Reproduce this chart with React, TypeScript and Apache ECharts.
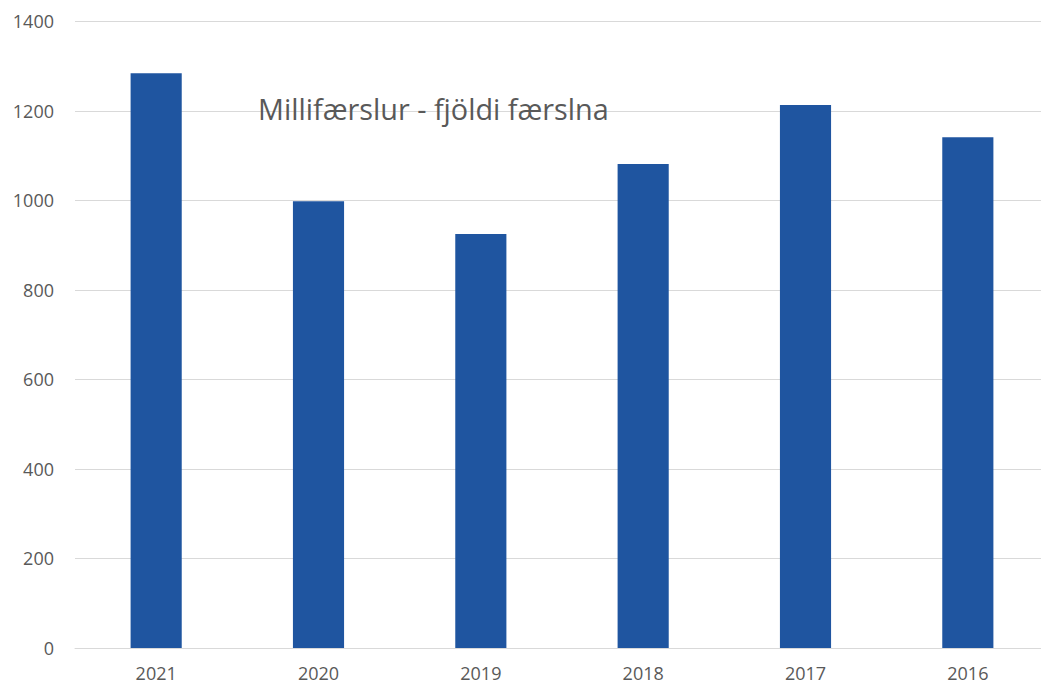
import React, { useEffect, useRef } from "react";
import * as echarts from "echarts";

const categories = ["2021", "2020", "2019", "2018", "2017", "2016"];
const values = [1284, 998, 925, 1081, 1213, 1141];
const titleText = "Millifærslur - fjöldi færslna";

export default function App() {
  const ref = useRef<HTMLDivElement>(null);
  useEffect(() => {
    document.body.style.margin = "0";
    const chart = echarts.init(ref.current!, null, { renderer: "svg" });
    chart.setOption({
      animation: false,
      backgroundColor: "#ffffff",
      title: {
        text: titleText,
        left: 253,
        top: 89,
        textStyle: {
          fontFamily: "Open Sans",
          fontSize: 28.8,
          fontWeight: "normal",
          color: "#595959",
        },
      },
      grid: {
        left: 75,
        width: 974,
        top: 21.3,
        bottom: 36,
        outerBoundsMode: "none",
        containLabel: false,
      },
      xAxis: {
        type: "category",
        data: categories,
        axisLine: { lineStyle: { color: "#d9d9d9", width: 1 } },
        axisTick: { show: false },
        axisLabel: {
          color: "#595959",
          fontSize: 18,
          fontFamily: "Open Sans",
          margin: 16,
        },
      },
      yAxis: {
        type: "value",
        min: 0,
        max: 1400,
        interval: 200,
        axisLine: { show: false },
        axisTick: { show: false },
        splitLine: { lineStyle: { color: "#d9d9d9", width: 1 } },
        axisLabel: {
          color: "#595959",
          fontSize: 18,
          fontFamily: "Open Sans",
          margin: 21,
          formatter: (v: number) => String(v),
        },
      },
      series: [
        {
          type: "bar",
          data: values,
          barWidth: "31.5%",
          itemStyle: { color: "#1f55a0" },
        },
      ],
    });
    return () => chart.dispose();
  }, []);
  return (
    <div
      ref={ref}
      style={{ position: "absolute", left: 0, top: 0, width: 1041, height: 684 }}
    />
  );
}
